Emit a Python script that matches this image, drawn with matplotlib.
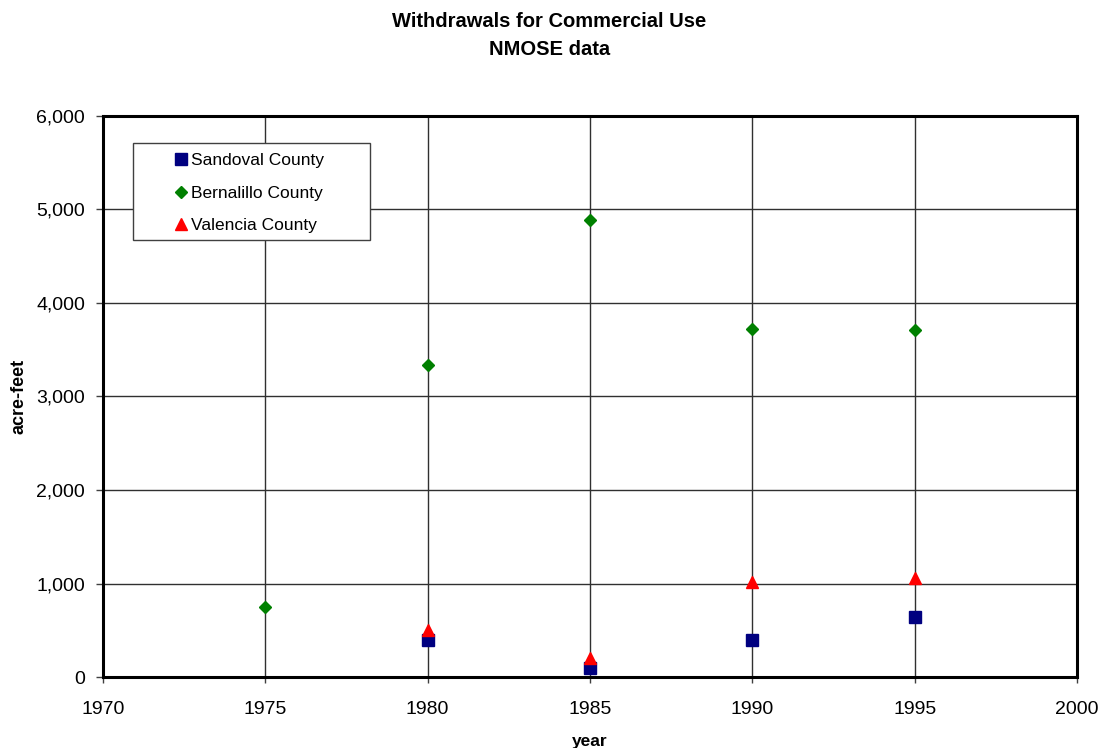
import matplotlib
matplotlib.use('Agg')
import matplotlib.pyplot as plt
from matplotlib.patches import Rectangle
from matplotlib.ticker import FuncFormatter

plt.rcParams['font.family'] = ['Liberation Sans', 'DejaVu Sans']

years = [1975, 1980, 1985, 1990, 1995]
sandoval_years = [1980, 1985, 1990, 1995]
sandoval = [400, 95, 400, 645]
bernalillo = [750, 3340, 4890, 3720, 3710]
valencia_years = [1980, 1985, 1990, 1995]
valencia = [505, 205, 1020, 1055]

fig = plt.figure(figsize=(10.99, 7.48), dpi=100)
ax = fig.add_axes([0.0937, 0.0949, 0.8863, 0.7501])

ax.plot(sandoval_years, sandoval, linestyle='none', marker='s', markersize=8.5,
        color='#000080', label='Sandoval County', zorder=3)
ax.plot(years, bernalillo, linestyle='none', marker='D', markersize=6.5,
        color='#008000', label='Bernalillo County', zorder=3)
ax.plot(valencia_years, valencia, linestyle='none', marker='^', markersize=9,
        color='#ff0000', label='Valencia County', zorder=4)

ax.set_xlim(1970, 2000)
ax.set_ylim(0, 6000)
ax.set_xticks(range(1970, 2001, 5))
ax.set_yticks(range(0, 6001, 1000))
ax.yaxis.set_major_formatter(FuncFormatter(lambda v, p: f"{int(v):,}"))
ax.grid(True, color='#303030', linewidth=1)
ax.set_axisbelow(True)
for s in ax.spines.values():
    s.set_linewidth(2.2)
    s.set_color('black')
ax.tick_params(labelsize=14, width=1, direction='out', color='#404040')
ax.tick_params(axis='x', length=4.5, pad=12.5)
ax.tick_params(axis='y', length=5, pad=8)

ax.set_xlabel('year', fontsize=12.5, fontweight='bold')
ax.xaxis.set_label_coords(0.5, -0.101)
ax.set_ylabel('acre-feet', fontsize=13, fontweight='bold')
ax.yaxis.set_label_coords(-0.077, 0.5)

fig.text(0.5, 0.9706, 'Withdrawals for Commercial Use', ha='center', va='center',
         fontsize=14.5, fontweight='bold')
fig.text(0.5, 0.9332, 'NMOSE data', ha='center', va='center',
         fontsize=14.5, fontweight='bold')

# legend box (wider than the entries, like the original)
box = Rectangle((0.0308, 0.779), 0.2433, 0.1729, transform=ax.transAxes,
                facecolor='white', edgecolor='#404040', linewidth=1, zorder=5)
ax.add_patch(box)
leg = ax.legend(loc='upper left', bbox_to_anchor=(0.075, 0.9335), fontsize=12.5,
                frameon=False, handlelength=0.6, handletextpad=0.25, borderpad=0,
                labelspacing=0.985, borderaxespad=0)
leg.set_zorder(6)

plt.savefig('out.png', dpi=100)
plt.close()
